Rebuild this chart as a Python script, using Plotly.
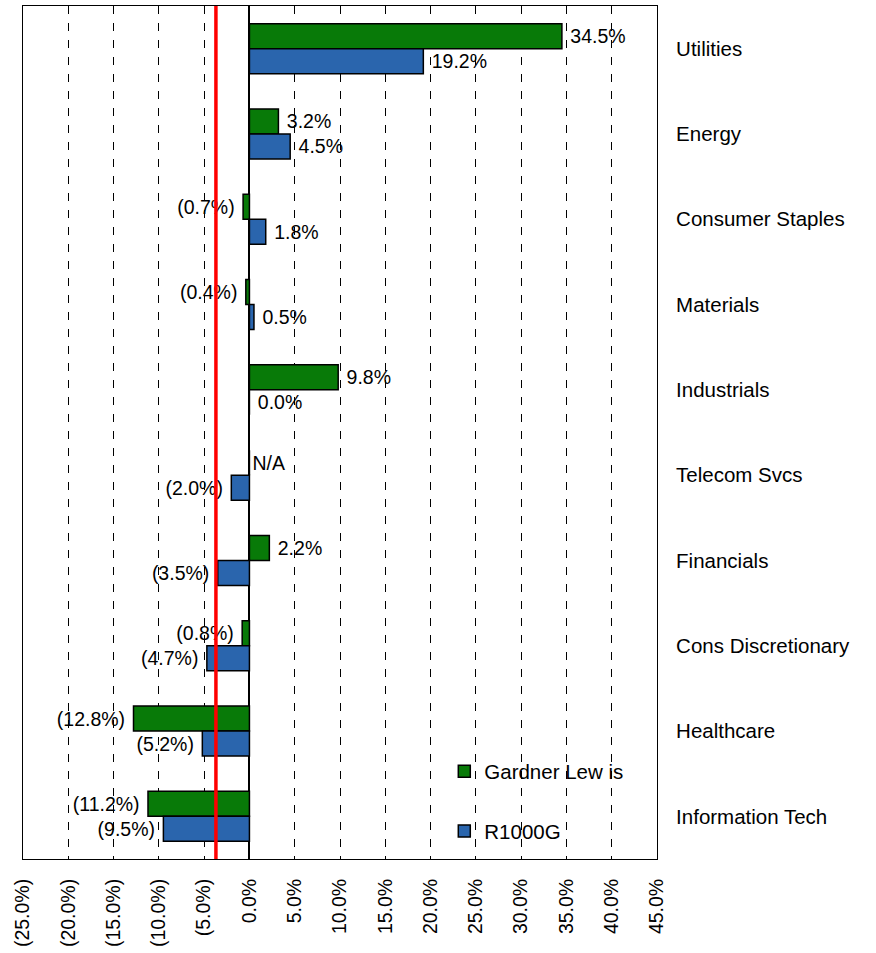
import plotly.graph_objects as go

# ---- data ----
categories = ["Utilities", "Energy", "Consumer Staples", "Materials", "Industrials",
              "Telecom Svcs", "Financials", "Cons Discretionary", "Healthcare", "Information Tech"]
gardner_lewis = [34.5, 3.2, -0.7, -0.4, 9.8, None, 2.2, -0.8, -12.8, -11.2]
r1000g = [19.2, 4.5, 1.8, 0.5, 0.0, -2.0, -3.5, -4.7, -5.2, -9.5]
series_names = ["Gardner Lew is", "R1000G"]
benchmark_line = -3.7
tick_values = [-25, -20, -15, -10, -5, 0, 5, 10, 15, 20, 25, 30, 35, 40, 45]

GREEN = "#087A08"
BLUE = "#2A65AD"
FONT = "Liberation Sans, Arial, sans-serif"
FS_LABEL = 19.5
FS_CAT = 20.5
FS_TICK = 19.5
FS_LEG = 20.5


def fmt(v):
    if v is None:
        return "N/A"
    if v < 0:
        return "(%.1f%%) " % abs(v)
    return " %.1f%%" % v


def tick_fmt(v):
    if v < 0:
        return "(%.1f%%)" % abs(v)
    return "%.1f%%" % v


fig = go.Figure()
for name, vals, col in [(series_names[0], gardner_lewis, GREEN), (series_names[1], r1000g, BLUE)]:
    fig.add_trace(go.Bar(
        y=categories,
        x=[0 if v is None else v for v in vals],
        orientation="h",
        name=name,
        legendgroup=name,
        marker=dict(color=col, line=dict(color="black", width=1.5)),
        text=[fmt(v) for v in vals],
        textposition="outside",
        textfont=dict(family=FONT, size=FS_LABEL, color="black"),
        cliponaxis=False,
    ))

# white patch behind the legend (covers gridlines)
fig.add_shape(type="rect", xref="paper", yref="paper", x0=0.673, x1=0.957, y0=0, y1=0.1336,
              fillcolor="white", line=dict(width=0), layer="between")

# red reference line
fig.add_shape(type="line", xref="x", yref="paper", x0=benchmark_line, x1=benchmark_line,
              y0=0, y1=1, line=dict(color="#FF0000", width=3.5), layer="above")

fig.update_layout(
    width=876, height=953,
    margin=dict(l=23, r=219, t=6, b=94, autoexpand=False),
    paper_bgcolor="white", plot_bgcolor="white",
    barmode="group", bargap=0.414, bargroupgap=0,
    font=dict(family=FONT, size=FS_LABEL, color="black"),
    uniformtext=dict(minsize=FS_LABEL, mode="show"),
    legend=dict(
        x=0.6645, xanchor="left", y=0.126, yanchor="top",
        bgcolor="rgba(0,0,0,0)",
        font=dict(family=FONT, size=FS_LEG, color="black"),
        tracegroupgap=30,
        traceorder="grouped",
    ),
    showlegend=True,
)

fig.update_xaxes(
    range=[-25, 45],
    automargin=False,
    tickvals=tick_values,
    ticktext=[tick_fmt(v) for v in tick_values],
    tickangle=-90,
    ticks="",
    ticklabelstandoff=11,
    showgrid=True, gridcolor="black", gridwidth=1, griddash="8px,9px",
    zeroline=True, zerolinecolor="black", zerolinewidth=1.5,
    showline=True, linecolor="black", linewidth=1, mirror=True,
    tickfont=dict(family=FONT, size=FS_TICK, color="black"),
)
fig.update_yaxes(
    categoryorder="array", categoryarray=categories,
    autorange="reversed",
    automargin=False,
    side="right",
    ticks="",
    ticklabelstandoff=14,
    showgrid=False,
    showline=True, linecolor="black", linewidth=1, mirror=True,
    tickfont=dict(family=FONT, size=FS_CAT, color="black"),
)

fig.write_html("out.html",
               config={"displayModeBar": False},
               post_script="document.body.style.margin='0';document.body.style.padding='0';")
